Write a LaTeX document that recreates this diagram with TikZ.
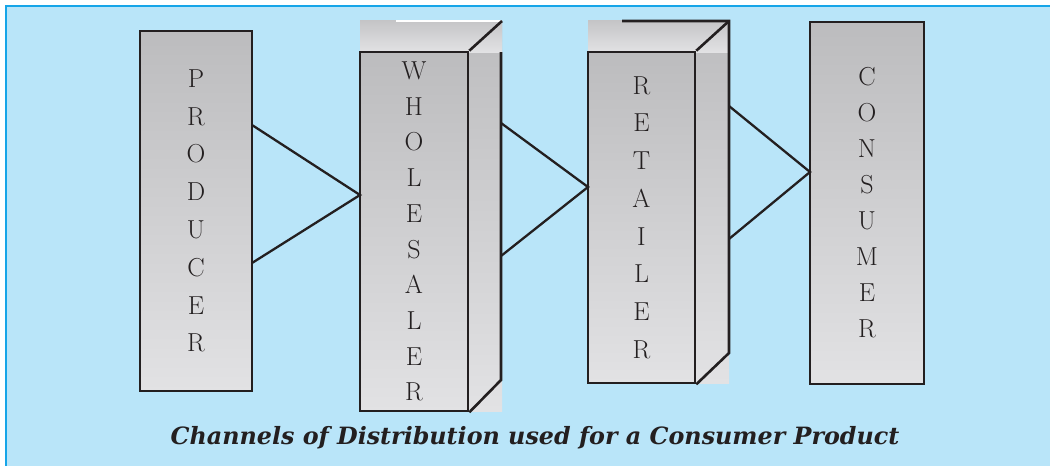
\documentclass[tikz,border=0pt]{standalone}
\usepackage{fontspec}
\newfontfamily\capfont{DejaVu Serif}
\definecolor{bgblue}{RGB}{185,229,249}
\definecolor{frameblue}{RGB}{22,165,232}
\definecolor{gtop}{RGB}{188,188,190}
\definecolor{gbot}{RGB}{226,226,228}
\definecolor{ttop}{RGB}{196,196,198}
\definecolor{tbot}{RGB}{226,226,228}
\definecolor{linec}{RGB}{35,31,32}
\tikzset{
  box/.style={draw=linec, line width=2.6pt, top color=gtop, bottom color=gbot, inner sep=0pt, align=center, text=linec, font=\fontsize{26}{#1}\selectfont},
  cubebg/.style={top color=gtop, bottom color=gbot},
  topface/.style={top color=ttop, bottom color=tbot},
  edge/.style={draw=linec, line width=2.6pt},
  conn/.style={draw=linec, line width=2.3pt}
}
\begin{document}
\begin{tikzpicture}[x=1pt,y=-1pt]
\useasboundingbox (0,0) rectangle (1050,466);
\fill[bgblue] (6,6) rectangle (1050,466);
\draw[frameblue, line width=2.6pt] (6,466) -- (6,6) -- (1050,6);
% cube backgrounds
\shade[cubebg] (360,20) rectangle (502,411);
\shade[topface] (360,20) rectangle (502,52);
\shade[cubebg] (588,20) rectangle (729,383);
\shade[topface] (588,20) rectangle (729,52);
% boxes
\node[box=37.8, minimum width=112pt, minimum height=360pt] (prod) at (196,211) {P\\R\\O\\D\\U\\C\\E\\R};
\node[box=35.7, minimum width=108pt, minimum height=359pt] (whole) at (414,231.5) {W\\H\\O\\L\\E\\S\\A\\L\\E\\R};
\node[box=37.7, minimum width=107pt, minimum height=331pt] (ret) at (641.5,217.5) {R\\E\\T\\A\\I\\L\\E\\R};
\node[box=36.0, minimum width=114pt, minimum height=362pt] (cons) at (867,203) {C\\O\\N\\S\\U\\M\\E\\R};
% cube edges
\coordinate (wtr) at (502,21);
\coordinate (wtl) at (396,21);
\coordinate (wbr) at (501,380);
\draw[white, line width=1.2pt] (wtl) -- (wtr);
\draw[edge] (whole.north east) -- (wtr);
\draw[edge] (501,52) -- (wbr) -- (whole.south east);
\coordinate (rtr) at (729,21);
\coordinate (rtl) at (622,21);
\coordinate (rbr) at (729,353);
\draw[edge] (rtl) -- (rtr) -- (rbr) -- (ret.south east);
\draw[edge] (ret.north east) -- (rtr);
% connectors
\coordinate (p1) at (252,125);
\coordinate (p2) at (252,263);
\coordinate (w0) at (360,195);
\coordinate (w1) at (501,123);
\coordinate (w2) at (501,256);
\coordinate (r0) at (588,187);
\coordinate (r1) at (729,106);
\coordinate (r2) at (729,239);
\coordinate (c0) at (810,172);
\draw[conn] (p1) -- (w0) -- (p2);
\draw[conn] (w1) -- (r0) -- (w2);
\draw[conn] (r1) -- (c0) -- (r2);
% caption
\node[font=\capfont\bfseries\itshape\fontsize{23.8}{27}\selectfont, text=linec] (cap) at (535,438) {Channels of Distribution used for a Consumer Product};
\end{tikzpicture}
\end{document}
